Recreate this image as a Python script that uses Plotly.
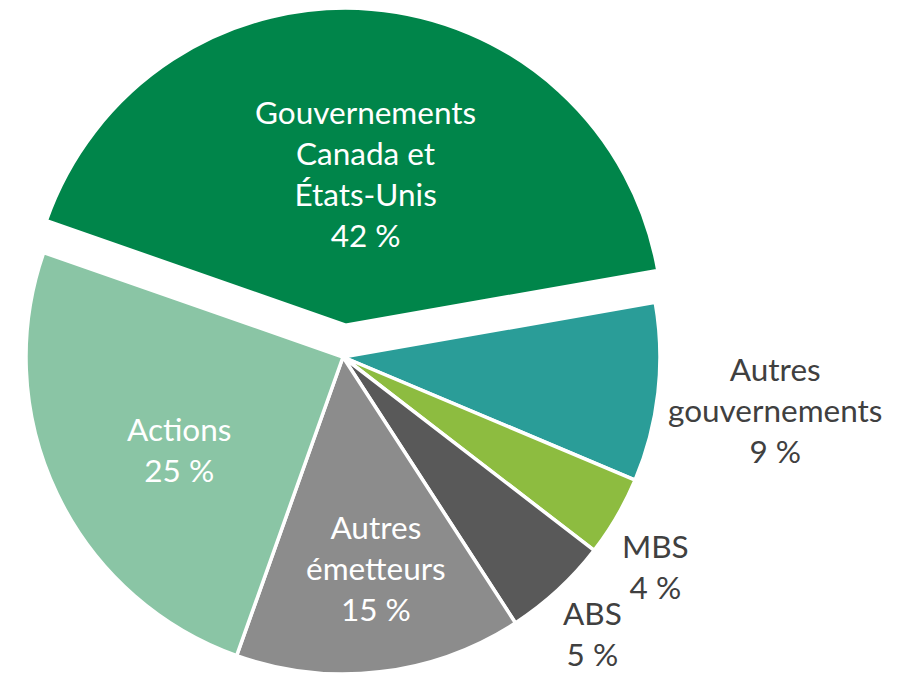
import math
import plotly.graph_objects as go

# ---- data ----
labels = ["Gouvernements<br>Canada et<br>États-Unis", "Autres<br>gouvernements",
          "MBS", "ABS", "Autres<br>émetteurs", "Actions"]
values = [41.9, 9.1, 4.1, 5.4, 14.6, 24.9]
colors = ["#00854A", "#2A9D98", "#8DBC40", "#595959", "#8C8C8C", "#8AC5A5"]
label_inside = [True, False, False, False, True, True]
pulled = [True, False, False, False, False, False]

# ---- layout constants ----
W, H = 914, 674
CX, CY, R = 343, 357, 317
PULL_PX = 32
ROT = 289.24
FS = 31.5
FONT = "Lato"
TEXT_GRAY = "#404040"
CLEAR = "rgba(0,0,0,0)"
LINE_W = 3.5

# label block centres (pixels)
label_pos = {0: (365, 173), 1: (775, 410), 2: (655, 566), 3: (592, 633),
             4: (376, 568), 5: (179, 449)}


def domain(cx, cy):
    return dict(x=[max(0, (cx - R) / W), min(1, (cx + R) / W)],
                y=[max(0, 1 - (cy + R) / H), min(1, 1 - (cy - R) / H)])


total = sum(values)
# mid angle of the pulled slice (clockwise from 12 o'clock)
start = ROT
mid = None
for v, p in zip(values, pulled):
    span = 360 * v / total
    if p:
        mid = start + span / 2
        break
    start += span
dx = PULL_PX * math.sin(math.radians(mid))
dy = -PULL_PX * math.cos(math.radians(mid))

common = dict(labels=labels, values=values, sort=False, direction="clockwise",
              rotation=ROT, textposition="none", hoverinfo="skip", showlegend=False)

fig = go.Figure()
fig.add_trace(go.Pie(
    **common,
    domain=domain(CX, CY),
    marker=dict(colors=[CLEAR if p else c for c, p in zip(colors, pulled)],
                line=dict(color="white", width=[0 if p else LINE_W for p in pulled])),
))
fig.add_trace(go.Pie(
    **common,
    domain=domain(CX + dx, CY + dy),
    marker=dict(colors=[c if p else CLEAR for c, p in zip(colors, pulled)],
                line=dict(color="white", width=[LINE_W if p else 0 for p in pulled])),
))

annotations = []
for i, (lab, v) in enumerate(zip(labels, values)):
    px, py = label_pos[i]
    annotations.append(dict(
        text=f"{lab}<br>{v:.0f} %", x=px / W, y=1 - py / H, xref="paper", yref="paper",
        xanchor="center", yanchor="middle", align="center", showarrow=False,
        borderpad=0,
        font=dict(family=FONT, size=FS,
                  color="white" if label_inside[i] else TEXT_GRAY)))

fig.update_layout(width=W, height=H, margin=dict(l=0, r=0, t=0, b=0),
                  paper_bgcolor="white", plot_bgcolor="white",
                  annotations=annotations)

fig.write_html("out.html", config={"displayModeBar": False},
               post_script="document.body.style.margin='0';")
